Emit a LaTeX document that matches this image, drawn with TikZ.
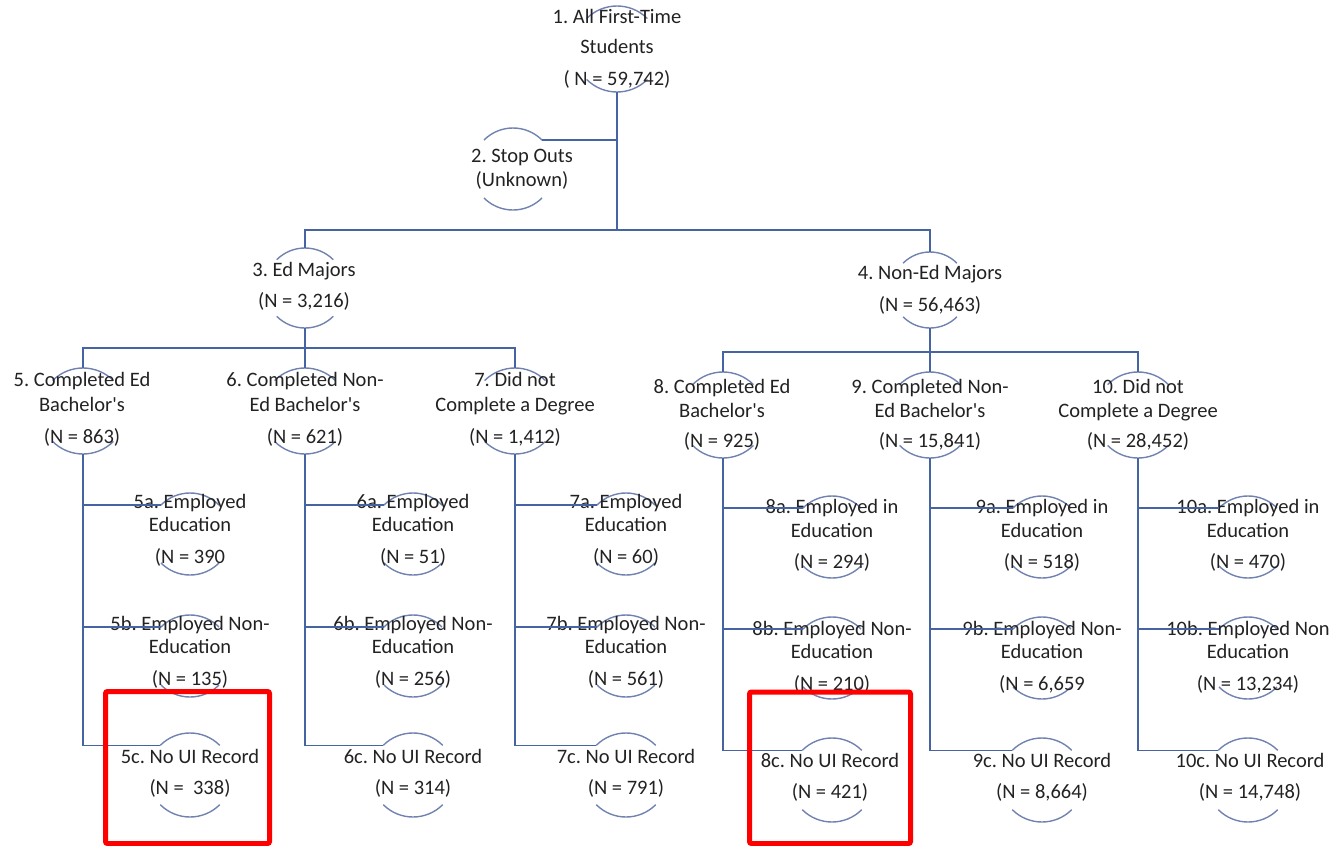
\documentclass[tikz,border=0pt]{standalone}
\usepackage{fontspec}
\setmainfont{Carlito}
\frenchspacing
\definecolor{linkblue}{RGB}{70,100,162}
\definecolor{ringblue}{RGB}{112,130,176}
\definecolor{inkgrey}{RGB}{34,34,34}
\definecolor{markred}{RGB}{255,0,0}
\newcommand{\ap}{\textquotesingle}

% a ring: invisible circle node, only its top and bottom arcs are drawn
\newcommand{\ringnode}[4]{%
  \node[ring=#4] (#1) at (#2,-#3) {};
  \draw[ringline] (#1.135) arc[start angle=135,end angle=45,radius=#4];
  \draw[ringline] (#1.225) arc[start angle=225,end angle=315,radius=#4];}

\begin{document}
\begin{tikzpicture}[x=1pt,y=1pt,
  ring/.style={circle,draw=none,inner sep=0pt,outer sep=0pt,minimum size=2*#1},
  ringline/.style={draw=ringblue,line width=1.4pt},
  link/.style={draw=linkblue,line width=1.6pt},
  lbl/.style={align=center,inner sep=0pt,text=inkgrey,
              font=\fontsize{20.5}{23.5}\selectfont},
  redmark/.style={draw=markred,line width=5pt,rounded corners=2pt}]
\useasboundingbox (0,0) rectangle (1334,-846);

% ---- rings ----
\ringnode{r1}{617}{49}{43}
\ringnode{r2}{513}{169}{41}
\ringnode{r3}{305}{288}{40}
\ringnode{r4}{930}{290}{38}
\ringnode{r5}{83}{411}{43}
\ringnode{r6}{305}{411}{43}
\ringnode{r7}{515}{411}{43}
\ringnode{r8}{723}{415}{43}
\ringnode{r9}{930}{415}{43}
\ringnode{r10}{1138}{415}{43}
% outcome rings, left group
\ringnode{r5a}{190}{534}{41}
\ringnode{r5b}{190}{656}{41}
\ringnode{r5c}{190}{775}{42}
\ringnode{r6a}{413}{534}{41}
\ringnode{r6b}{413}{656}{41}
\ringnode{r6c}{413}{775}{42}
\ringnode{r7a}{626}{534}{41}
\ringnode{r7b}{626}{656}{41}
\ringnode{r7c}{626}{775}{42}
% outcome rings, right group
\ringnode{r8a}{832}{537}{41}
\ringnode{r8b}{832}{658}{41}
\ringnode{r8c}{832}{780}{42}
\ringnode{r9a}{1042}{537}{41}
\ringnode{r9b}{1042}{658}{41}
\ringnode{r9c}{1042}{780}{42}
\ringnode{r10a}{1248}{537}{41}
\ringnode{r10b}{1248}{658}{41}
\ringnode{r10c}{1248}{780}{42}

% ---- labels ----
\node[lbl] (t1) at (617,-49) {1. All First-Time\\[6.5pt]Students\\[8.5pt]( N = 59,742)};
\node[lbl] (t2) at (522,-169.5) {2. Stop Outs\\(Unknown)};
\node[lbl] (t3) at (304,-286.5) {3. Ed Majors\\[7.5pt](N = 3,216)};
\node[lbl] (t4) at (930,-290) {4. Non-Ed Majors\\[8.5pt](N = 56,463)};
\node[lbl] (t5) at (82,-409.5) {5. Completed Ed\\[1.5pt]Bachelor\ap s\\[8.5pt](N = 863)};
\node[lbl] (t6) at (305,-409.5) {6. Completed Non-\\[1.5pt]Ed Bachelor\ap s\\[8.5pt](N = 621)};
\node[lbl] (t7) at (515,-409.5) {7. Did not\\[1.5pt]Complete a Degree\\[8.5pt](N = 1,412)};
\node[lbl] (t8) at (722,-414.5) {8. Completed Ed\\[1pt]Bachelor\ap s\\[6pt](N = 925)};
\node[lbl] (t9) at (930,-414.5) {9. Completed Non-\\[1pt]Ed Bachelor\ap s\\[6pt](N = 15,841)};
\node[lbl] (t10) at (1138,-414.5) {10. Did not\\[1pt]Complete a Degree\\[6pt](N = 28,452)};

\node[lbl] (t5a) at (190,-530.5) {5a. Employed\\Education\\[8.5pt](N = 390};
\node[lbl] (t5b) at (190,-652.5) {5b. Employed Non-\\Education\\[8.5pt](N = 135)};
\node[lbl] (t5c) at (190,-773.5) {5c. No UI Record\\[8pt](N = \ 338)};
\node[lbl] (t6a) at (413,-530.5) {6a. Employed\\Education\\[8.5pt](N = 51)};
\node[lbl] (t6b) at (413,-652.5) {6b. Employed Non-\\Education\\[8.5pt](N = 256)};
\node[lbl] (t6c) at (413,-773.5) {6c. No UI Record\\[8pt](N = 314)};
\node[lbl] (t7a) at (626,-530.5) {7a. Employed\\Education\\[8.5pt](N = 60)};
\node[lbl] (t7b) at (626,-652.5) {7b. Employed Non-\\Education\\[8.5pt](N = 561)};
\node[lbl] (t7c) at (626,-773.5) {7c. No UI Record\\[8pt](N = 791)};

\node[lbl] (t8a) at (832,-535.5) {8a. Employed in\\Education\\[8pt](N = 294)};
\node[lbl] (t8b) at (832,-657) {8b. Employed Non-\\Education\\[8pt](N = 210)};
\node[lbl] (t8c) at (830,-777.5) {8c. No UI Record\\[8pt](N = 421)};
\node[lbl] (t9a) at (1042,-535.5) {9a. Employed in\\Education\\[8pt](N = 518)};
\node[lbl] (t9b) at (1042,-657) {9b. Employed Non-\\Education\\[8pt](N = 6,659};
\node[lbl] (t9c) at (1042,-777.5) {9c. No UI Record\\[8pt](N = 8,664)};
\node[lbl] (t10a) at (1248,-535.5) {10a. Employed in\\Education\\[8pt](N = 470)};
\node[lbl] (t10b) at (1248,-657) {10b. Employed Non\\Education\\[8pt](N = 13,234)};
\node[lbl] (t10c) at (1250,-777.5) {10c. No UI Record\\[8pt](N = 14,748)};

% ---- connectors ----
\coordinate (j1) at (617,-230);
\coordinate (j3) at (305,-348);
\coordinate (j4) at (930,-352);
\draw[link] (r1.south) -- (j1);
\draw[link] (r1.south |- r2.45) -- (r2.45);
\draw[link] (r3.north) |- (j1) -| (r4.north);
\draw[link] (r3.south) -- (j3);
\draw[link] (r5.north) |- (j3) -| (r7.north);
\draw[link] (r6.north) -- (j3);
\draw[link] (r4.south) -- (j4);
\draw[link] (r8.north) |- (j4) -| (r10.north);
\draw[link] (r9.north) -- (j4);
\foreach \p in {5,6,7,8,9,10}{
  \draw[link] (r\p.south) |- (r\p c.135);
  \draw[link] (r\p.south |- r\p a.135) -- (r\p a.135);
  \draw[link] (r\p.south |- r\p b.135) -- (r\p b.135);
}

% ---- highlight frames ----
\draw[redmark] (105.5,-691.5) rectangle (269.5,-843.5);
\draw[redmark] (749.5,-692) rectangle (910.5,-843.5);
\end{tikzpicture}
\end{document}
